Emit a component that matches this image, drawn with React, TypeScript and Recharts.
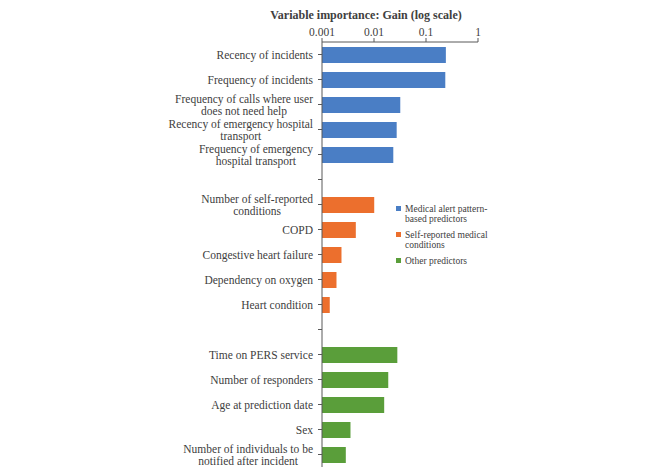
import React from 'react';
import { BarChart, Bar, XAxis, YAxis, Cell } from 'recharts';

// labels as they wrap in the figure, '' = spacer row between groups
const categories: string[] = [
  'Recency of incidents',
  'Frequency of incidents',
  'Frequency of calls where user\ndoes not need help',
  'Recency of emergency hospital\ntransport',
  'Frequency of emergency\nhospital transport',
  '',
  'Number of self-reported\nconditions',
  'COPD',
  'Congestive heart failure',
  'Dependency on oxygen',
  'Heart condition',
  '',
  'Time on PERS service',
  'Number of responders',
  'Age at prediction date',
  'Sex',
  'Number of individuals to be\nnotified after incident',
];

const gains: (number | null)[] = [
  0.241, 0.235, 0.032, 0.0273, 0.0235,
  null,
  0.0101, 0.00447, 0.00237, 0.0019, 0.00141,
  null,
  0.0281, 0.0188, 0.0157, 0.00353, 0.00287,
];

// group index per row (-1 for spacer)
const groups: number[] = [0, 0, 0, 0, 0, -1, 1, 1, 1, 1, 1, -1, 2, 2, 2, 2, 2];

const groupNames = [
  'Medical alert pattern-\nbased predictors',
  'Self-reported medical\nconditions',
  'Other predictors',
];
const groupColors = ['#4A7EC5', '#EC6F2D', '#5A9E3A'];

const xTicks = [0.001, 0.01, 0.1, 1];

const data = categories.map((c, i) => ({ id: i, label: c, gain: gains[i] }));

const FONT = '"Liberation Serif", "Times New Roman", serif';

let ctx: CanvasRenderingContext2D | null = null;
const measure = (s: string) => {
  if (!ctx) {
    ctx = document.createElement('canvas').getContext('2d');
    if (ctx) ctx.font = '11.5px "Liberation Serif"';
  }
  return ctx ? ctx.measureText(s).width : s.length * 5.5;
};

const CategoryTick = (props: any) => {
  const { x, y, payload } = props;
  const label = categories[payload.value] || '';
  if (!label) return null;
  const lines = label.split('\n');
  const w = Math.max(...lines.map(measure));
  const cx = x - w / 2;
  const top = y - ((lines.length - 1) * 12) / 2;
  return (
    <text fontFamily={FONT} fontSize={11.5} fill="#404040" textAnchor="middle">
      {lines.map((l, i) => (
        <tspan key={i} x={cx} y={top + i * 12} dy="0.35em">
          {l}
        </tspan>
      ))}
    </text>
  );
};

const LegendBox = () => (
  <div
    style={{
      position: 'absolute',
      left: 396,
      top: 204,
      fontFamily: FONT,
      fontSize: 9.5,
      color: '#404040',
      lineHeight: '10px',
    }}
  >
    {groupNames.map((g, i) => (
      <div key={i} style={{ display: 'flex', alignItems: 'flex-start', marginBottom: 6 }}>
        <span
          style={{
            width: 5,
            height: 5,
            background: groupColors[i],
            marginTop: 2,
            marginRight: 4,
            flex: 'none',
          }}
        />
        <span style={{ whiteSpace: 'pre' }}>{g}</span>
      </div>
    ))}
  </div>
);

export default function App() {
  return (
    <div style={{ position: 'absolute', left: 0, top: 0, width: 666, height: 476, background: '#fff' }}>
      <div
        style={{
          position: 'absolute',
          left: 216,
          width: 300,
          top: 8,
          textAlign: 'center',
          fontFamily: FONT,
          fontWeight: 'bold',
          fontSize: 12,
          color: '#404040',
        }}
      >
        Variable importance: Gain (log scale)
      </div>
      <BarChart
        width={666}
        height={476}
        data={data}
        layout="vertical"
        margin={{ top: 22, right: 188, bottom: 9, left: 0 }}
      >
        <XAxis
          type="number"
          orientation="top"
          scale="log"
          domain={[0.001, 1]}
          ticks={xTicks}
          allowDataOverflow
          height={20}
          tickFormatter={(v: number) => String(v)}
          tick={{ fontFamily: FONT, fontSize: 11.5, fill: '#404040' }}
          stroke="#595959"
          tickSize={4}
          tickMargin={2}
        />
        <YAxis
          type="category"
          dataKey="id"
          width={322}
          interval={0}
          tick={<CategoryTick />}
          stroke="#595959"
          tickSize={4}
          tickMargin={5}
        />
        <Bar dataKey="gain" barSize={16} isAnimationActive={false}>
          {data.map((d, i) => (
            <Cell key={`cell-${i}`} fill={groups[i] >= 0 ? groupColors[groups[i]] : 'none'} />
          ))}
        </Bar>
      </BarChart>
      <LegendBox />
    </div>
  );
}
